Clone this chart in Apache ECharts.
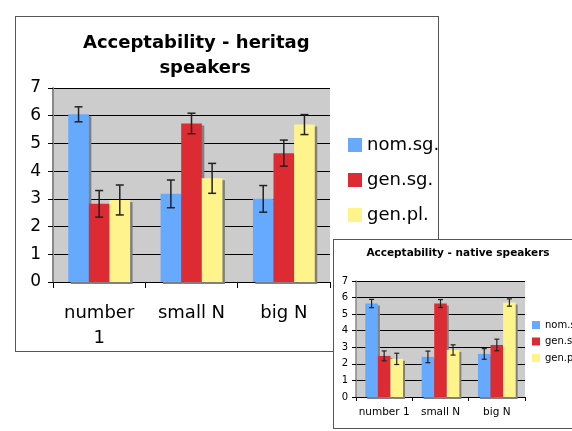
<!DOCTYPE html>
<html lang="en">
<head>
<meta charset="UTF-8">
<title>Acceptability</title>
<style>
    *{ margin: 0; }
    html,body{ width: 572px; height: 431px; overflow: hidden; background: #fff; }
    #heritage{
        position: absolute; left: 15px; top: 16px;
        width: 422px; height: 334px;
        border: 1px solid #555; background: #fff;
    }
    #native{
        position: absolute; left: 333px; top: 239px;
        width: 260px; height: 188px;
        border: 1px solid #555; background: #fff; z-index: 2;
    }
</style>
<script src="https://cdn.jsdelivr.net/npm/echarts@6/dist/echarts.min.js"></script>
</head>
<body>
<div id="heritage"></div>
<div id="native"></div>
<script>
    // categories / series
    const categories = ['number 1', 'small N', 'big N'];
    const seriesNames = ['nom.sg.', 'gen.sg.', 'gen.pl.'];
    const colors = ['#66aaff', '#dd2b33', '#fff38c'];
    const yTicks = [0, 1, 2, 3, 4, 5, 6, 7];

    // heritage speakers (means and error half-widths)
    const heritageNom = [6.05, 3.18, 3.00];
    const heritageGenSg = [2.82, 5.72, 4.65];
    const heritageGenPl = [2.96, 3.74, 5.68];
    const heritageNomErr = [0.27, 0.50, 0.48];
    const heritageGenSgErr = [0.48, 0.37, 0.47];
    const heritageGenPlErr = [0.54, 0.54, 0.36];

    // native speakers
    const nativeNom = [5.64, 2.42, 2.60];
    const nativeGenSg = [2.48, 5.64, 3.14];
    const nativeGenPl = [2.30, 2.84, 5.70];
    const nativeNomErr = [0.25, 0.35, 0.32];
    const nativeGenSgErr = [0.30, 0.24, 0.35];
    const nativeGenPlErr = [0.34, 0.31, 0.22];

    const FONT = '"DejaVu Sans", Verdana, sans-serif';
    const GAP = 0.33;

    function makeOption(means, errs, o) {
        const series = [];
        means.forEach(function (vals, i) {
            series.push({
                name: seriesNames[i],
                type: 'bar',
                data: vals,
                barGap: '0%',
                barCategoryGap: (GAP * 100) + '%',
                itemStyle: {
                    color: colors[i],
                    shadowColor: '#808080',
                    shadowOffsetX: o.shadow[0],
                    shadowOffsetY: o.shadow[1],
                    shadowBlur: 0
                },
                z: 2,
                silent: true
            });
        });
        // error bars
        means.forEach(function (vals, i) {
            series.push({
                type: 'custom',
                silent: true,
                z: 3,
                encode: {x: 0, y: [1, 2]},
                data: vals.map(function (v, j) { return [j, v - errs[i][j], v + errs[i][j]]; }),
                renderItem: function (params, api) {
                    const idx = api.value(0);
                    const lo = api.coord([idx, api.value(1)]);
                    const hi = api.coord([idx, api.value(2)]);
                    const band = api.size([1, 0])[0];
                    const barW = band * (1 - GAP) / 3;
                    const cx = lo[0] + (i - 1) * barW;
                    const c = o.cap;
                    const st = {stroke: '#222', lineWidth: o.errWidth};
                    return {
                        type: 'group',
                        children: [
                            {type: 'line', shape: {x1: cx, y1: lo[1], x2: cx, y2: hi[1]}, style: st},
                            {type: 'line', shape: {x1: cx - c, y1: lo[1], x2: cx + c, y2: lo[1]}, style: st},
                            {type: 'line', shape: {x1: cx - c, y1: hi[1], x2: cx + c, y2: hi[1]}, style: st}
                        ]
                    };
                }
            });
        });

        return {
            animation: false,
            textStyle: {fontFamily: FONT, color: '#000'},
            graphic: o.titles,
            legend: {
                data: seriesNames,
                orient: 'vertical',
                left: o.legend.left,
                top: o.legend.top,
                padding: 0,
                itemWidth: o.legend.icon,
                itemHeight: o.legend.icon,
                itemGap: o.legend.gap,
                icon: 'rect',
                itemStyle: {shadowColor: 'transparent', shadowOffsetX: 0, shadowOffsetY: 0},
                textStyle: {fontSize: o.legend.font, fontFamily: FONT, color: '#000'}
            },
            grid: {
                left: o.grid[0], top: o.grid[1], width: o.grid[2], height: o.grid[3],
                show: true, backgroundColor: '#cccccc', borderWidth: 0
            },
            xAxis: {
                type: 'category',
                data: categories,
                axisLine: {lineStyle: {color: '#000', width: 1}},
                axisTick: {show: true, length: o.xTick, lineStyle: {color: '#000'}},
                axisLabel: {
                    interval: 0, hideOverlap: false,
                    fontSize: o.xFont, margin: o.xMargin, lineHeight: o.xLine,
                    color: '#000', fontFamily: FONT,
                    formatter: o.wrap ? function (v) { return v === 'number 1' ? 'number\n1' : v; } : null
                }
            },
            yAxis: {
                type: 'value',
                min: yTicks[0],
                max: yTicks[yTicks.length - 1],
                interval: 1,
                axisLine: {show: true, lineStyle: {color: '#888', width: o.yLineW}},
                axisTick: {show: true, length: o.yTick, lineStyle: {color: '#000'}},
                axisLabel: {fontSize: o.yFont, margin: o.yMargin, color: '#000', fontFamily: FONT},
                splitLine: {show: true, lineStyle: {color: '#000', width: 1}}
            },
            series: series
        };
    }

    const heritageChart = echarts.init(document.getElementById('heritage'));
    heritageChart.setOption(makeOption(
        [heritageNom, heritageGenSg, heritageGenPl],
        [heritageNomErr, heritageGenSgErr, heritageGenPlErr],
        {
            grid: [37, 71, 277, 194],
            shadow: [2.5, 2], cap: 4, errWidth: 1.5,
            xFont: 18, xMargin: 19, xLine: 25, xTick: 6, wrap: true,
            yFont: 17, yMargin: 12, yTick: 5, yLineW: 2,
            legend: {left: 332, top: 119, icon: 14, gap: 17, font: 18},
            titles: [
                {type: 'text', left: 67, top: 17,
                 style: {text: 'Acceptability - heritage', font: 'bold 18px ' + FONT, fill: '#000',
                         width: 238, overflow: 'truncate', ellipsis: ''}},
                {type: 'text', x: 189, y: 51,
                 style: {text: 'speakers', font: 'bold 18px ' + FONT, fill: '#000',
                         textAlign: 'center', textVerticalAlign: 'middle'}}
            ]
        }
    ));

    const nativeChart = echarts.init(document.getElementById('native'));
    nativeChart.setOption(makeOption(
        [nativeNom, nativeGenSg, nativeGenPl],
        [nativeNomErr, nativeGenSgErr, nativeGenPlErr],
        {
            grid: [22, 41, 169, 116],
            shadow: [2, 2], cap: 2.5, errWidth: 1.2,
            xFont: 10.5, xMargin: 9, xLine: 13, xTick: 4, wrap: false,
            yFont: 10, yMargin: 8, yTick: 4, yLineW: 1.5,
            legend: {left: 198, top: 80, icon: 8, gap: 6.5, font: 10},
            titles: [
                {type: 'text', x: 124, y: 13,
                 style: {text: 'Acceptability - native speakers', font: 'bold 10.5px ' + FONT, fill: '#000',
                         textAlign: 'center', textVerticalAlign: 'middle'}}
            ]
        }
    ));
</script>
</body>
</html>
